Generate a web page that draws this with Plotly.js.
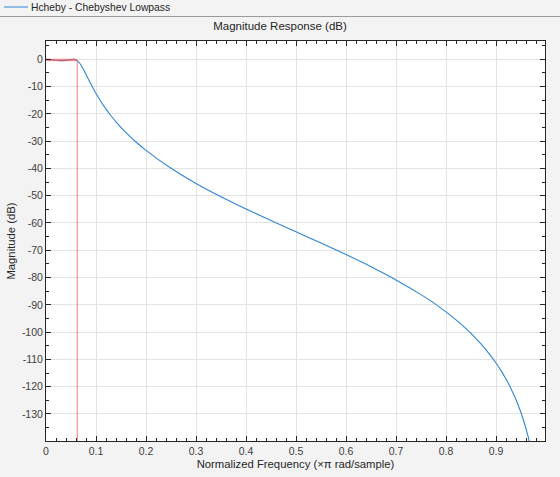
<!DOCTYPE html>
<html>
<head>
<meta charset="utf-8">
<script src="https://cdn.plot.ly/plotly-3.0.1.min.js"></script>
<style>html,body{margin:0;padding:0;background:#f3f3f3;}#plot{width:560px;height:477px;}</style>
</head>
<body>
<div id="plot"></div>
<script>
// Magnitude response (normalized frequency, dB)
const freq = [0, 0.0078, 0.0157, 0.0235, 0.0313, 0.0392, 0.0470, 0.0501, 0.0542, 0.0564, 0.0594, 0.0609, 0.0625,
  0.065, 0.07, 0.075, 0.08, 0.09, 0.10, 0.11, 0.12, 0.13, 0.14, 0.16, 0.18, 0.20, 0.25, 0.30, 0.35, 0.40,
  0.45, 0.50, 0.55, 0.60, 0.65, 0.70, 0.75, 0.77, 0.78, 0.80, 0.82, 0.83, 0.84, 0.85, 0.86, 0.87, 0.88, 0.89, 0.90,
  0.91, 0.92, 0.93, 0.94, 0.945, 0.95, 0.955, 0.96, 0.965, 0.97];
const magDb = [0, -0.071, -0.244, -0.422, -0.5, -0.408, -0.164, -0.065, 0, -0.025, -0.174, -0.313, -0.5,
  -0.91, -2.12, -3.73, -5.53, -9.19, -12.56, -15.57, -18.26, -20.69, -22.92, -26.87, -30.31, -33.39, -39.96, -45.49, -50.37, -54.86,
  -59.10, -63.24, -67.37, -71.59, -76.04, -80.86, -86.26, -88.65, -89.91, -92.59, -95.51, -97.07, -98.73, -100.48, -102.34, -104.33, -106.47, -108.79, -111.32,
  -114.10, -117.21, -120.72, -124.77, -127.05, -129.54, -132.30, -135.38, -138.86, -142.89];
const seriesName = 'Hcheby - Chebyshev Lowpass';

// Passband mask (red)
const maskUpperX = [0, 0.0625];
const maskUpperY = [0, 0];
const maskLowerX = [0, 0.0625, 0.0625];
const maskLowerY = [-0.5, -0.5, -140];

const xTickVals = [0, 0.1, 0.2, 0.3, 0.4, 0.5, 0.6, 0.7, 0.8, 0.9];
const xTickText = ["0", "0.1", "0.2", "0.3", "0.4", "0.5", "0.6", "0.7", "0.8", "0.9"];
const yTickVals = [0, -10, -20, -30, -40, -50, -60, -70, -80, -90, -100, -110, -120, -130];
const yTickText = ["0", "-10", "-20", "-30", "-40", "-50", "-60", "-70", "-80", "-90", "-100", "-110", "-120", "-130"];

const blue = '#2f86d4';
const red = 'rgba(245,90,90,0.8)';
const FONT = 'Liberation Sans, Arial, sans-serif';

const traces = [
  {x: freq, y: magDb, type: 'scatter', mode: 'lines', name: seriesName, showlegend: false,
   line: {color: blue, width: 1.1, shape: 'spline', smoothing: 0.6}},
  {x: maskUpperX, y: maskUpperY, type: 'scatter', mode: 'lines', showlegend: false,
   line: {color: red, width: 1}},
  {x: maskLowerX, y: maskLowerY, type: 'scatter', mode: 'lines', showlegend: false,
   line: {color: red, width: 1}}
];

const axisCommon = {
  showline: true, linecolor: '#262626', linewidth: 1, mirror: 'ticks',
  ticks: 'inside', ticklen: 5, tickcolor: '#262626', tickwidth: 1,
  showgrid: true, gridcolor: '#e3e3e3', gridwidth: 1, zeroline: false,
  tickfont: {family: FONT, size: 10.5, color: '#404040'}
};

// helpers: page pixel -> paper coords (plot area x 46..545, y 41..441)
const px = v => (v - 46) / 499;
const py = v => (441 - v) / 400;

const layout = {
  width: 560, height: 477,
  paper_bgcolor: '#f3f3f3', plot_bgcolor: '#ffffff',
  margin: {l: 46, r: 15, t: 41, b: 36, autoexpand: false},
  font: {family: FONT, color: '#262626'},
  title: {text: 'Magnitude Response (dB)', font: {family: FONT, size: 11.5, color: '#262626'}, x: 0.5, xanchor: 'center', y: 1 - 26/477, yanchor: 'middle'},
  showlegend: false,
  xaxis: Object.assign({}, axisCommon, {
    range: [0, 0.998], tickvals: xTickVals, ticktext: xTickText,
    minor: {dtick: 0.02, ticks: 'inside', ticklen: 3, tickcolor: '#262626', showgrid: false},
    title: {text: 'Normalized Frequency (\u00d7\u03c0 rad/sample)', standoff: 4,
            font: {family: FONT, size: 11.3, color: '#262626'}}
  }),
  yaxis: Object.assign({}, axisCommon, {
    range: [-139.9, 6.7], tickvals: yTickVals, ticktext: yTickText,
    minor: {dtick: 5, ticks: 'inside', ticklen: 3, tickcolor: '#262626', showgrid: false},
    title: {text: 'Magnitude (dB)', standoff: 3,
            font: {family: FONT, size: 11.3, color: '#262626'}}
  }),
  shapes: [
    {type: 'line', xref: 'paper', yref: 'paper', x0: px(0), x1: px(560), y0: py(16.5), y1: py(16.5),
     line: {color: '#9a9a9a', width: 1}},
    {type: 'line', xref: 'paper', yref: 'paper', x0: px(4), x1: px(28), y0: py(7), y1: py(7),
     line: {color: blue, width: 1}}
  ],
  annotations: [
    {xref: 'paper', yref: 'paper', x: px(29), y: py(7), xanchor: 'left', yanchor: 'middle',
     text: seriesName, showarrow: false, font: {family: FONT, size: 10.3, color: '#262626'}}
  ]
};

Plotly.newPlot('plot', traces, layout, {displayModeBar: false, staticPlot: true});
</script>
</body>
</html>
